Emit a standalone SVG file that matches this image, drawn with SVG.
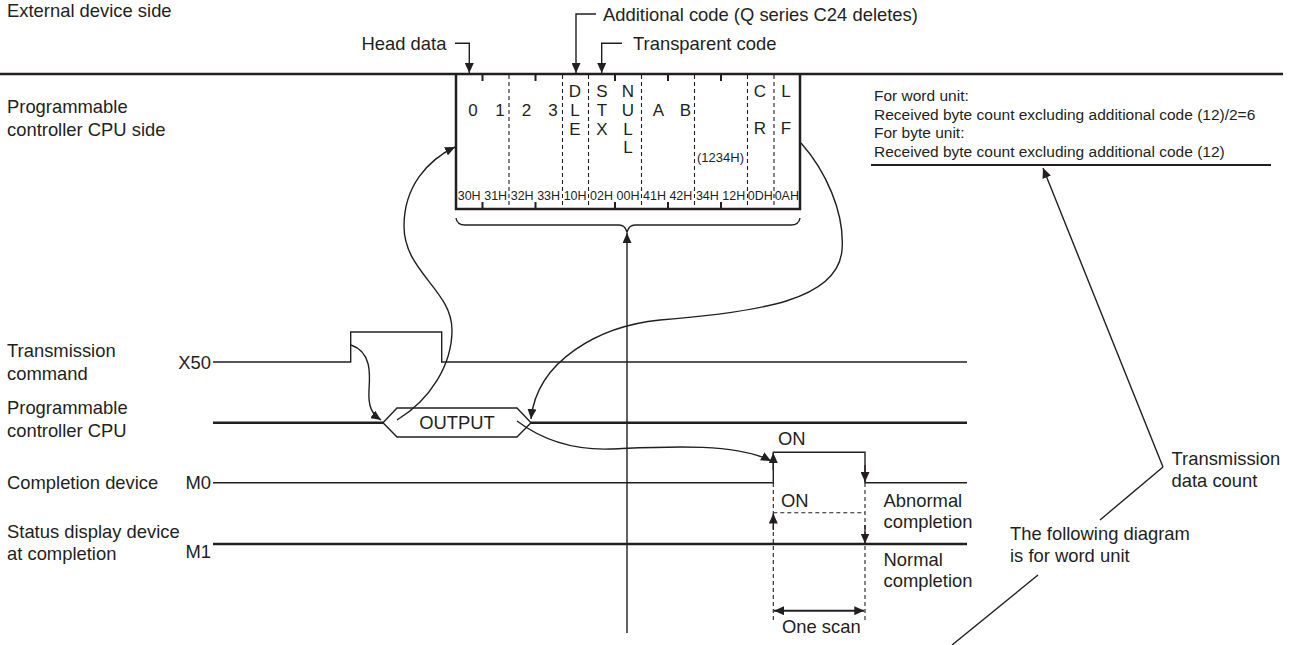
<svg xmlns="http://www.w3.org/2000/svg" width="1295" height="645" viewBox="0 0 1295 645">
<style>
text{font-family:"Liberation Sans",Arial,sans-serif;fill:#231f20}
.t{font-size:18.4px}
.s{font-size:15.5px}
.c{font-size:17px;text-anchor:middle}
.h{font-size:12.5px;text-anchor:middle}
.thick{stroke:#231f20;stroke-width:2.5;fill:none}
.thin{stroke:#231f20;stroke-width:1.4;fill:none}
.dash{stroke:#231f20;stroke-width:1.1;fill:none;stroke-dasharray:4 3}
.tick{stroke:#231f20;stroke-width:2;fill:none}
.arr{marker-end:url(#ah)}
</style>
<defs>
<marker id="ah" viewBox="0 0 10 9" refX="10" refY="4.5" markerWidth="10" markerHeight="9" markerUnits="userSpaceOnUse" orient="auto-start-reverse"><path d="M0,0 L10,4.5 L0,9 z" fill="#231f20"/></marker>
</defs>
<rect width="1295" height="645" fill="#fff"/>

<g id="side-labels">
<text class="t" x="7" y="17">External device side</text>
<text class="t" x="7" y="113">Programmable</text>
<text class="t" x="7" y="136">controller CPU side</text>
<line class="thick" x1="0" y1="74" x2="1283" y2="74"/>
</g>

<g id="data-frame">
<path class="thick" d="M456,74 V209 H800 V74"/>
<g class="tick">
<path d="M482.5,74v7M482.5,209v-7M535.5,74v7M535.5,209v-7M615,74v7M615,209v-7M668,74v7M668,209v-7M721,74v7M721,209v-7"/>
</g>
<g class="dash">
<path d="M509,75V208M562.5,75V208M588.5,75V208M641.5,75V208M694.5,75V208M747.5,75V208M774,75V208"/>
</g>
<text class="c" x="473" y="116">0</text>
<text class="c" x="500" y="116">1</text>
<text class="c" x="526.5" y="116">2</text>
<text class="c" x="553" y="116">3</text>
<text class="c" x="575" y="97">D</text>
<text class="c" x="575" y="116">L</text>
<text class="c" x="575" y="134.5">E</text>
<text class="c" x="602" y="97">S</text>
<text class="c" x="602" y="116">T</text>
<text class="c" x="602" y="134.5">X</text>
<text class="c" x="628" y="97">N</text>
<text class="c" x="628" y="116">U</text>
<text class="c" x="628" y="134.5">L</text>
<text class="c" x="628" y="153">L</text>
<text class="c" x="658.5" y="116">A</text>
<text class="c" x="685.5" y="116">B</text>
<text x="720.5" y="162" style="font-size:13px;text-anchor:middle">(1234H)</text>
<text class="c" x="760" y="97">C</text>
<text class="c" x="760" y="134">R</text>
<text class="c" x="786" y="97">L</text>
<text class="c" x="786" y="134">F</text>
<text class="h" x="469.2" y="199.5">30H</text>
<text class="h" x="495.7" y="199.5">31H</text>
<text class="h" x="522.2" y="199.5">32H</text>
<text class="h" x="548.6" y="199.5">33H</text>
<text class="h" x="575.1" y="199.5">10H</text>
<text class="h" x="601.5" y="199.5">02H</text>
<text class="h" x="628" y="199.5">00H</text>
<text class="h" x="654.5" y="199.5">41H</text>
<text class="h" x="680.9" y="199.5">42H</text>
<text class="h" x="707.4" y="199.5">34H</text>
<text class="h" x="733.8" y="199.5">12H</text>
<text class="h" x="760.3" y="199.5">0DH</text>
<text class="h" x="786.8" y="199.5">0AH</text>
<path class="thin" d="M456,218 Q457,225 465,225 H619 Q625,225 627,232 Q629,225 635,225 H791 Q799,225 800,218"/>
</g>

<g id="head-labels">
<text class="t" x="361.5" y="49.5">Head data</text>
<text class="t" x="633" y="50">Transparent code</text>
<text class="t" x="603" y="20.5">Additional code (Q series C24 deletes)</text>
</g>

<g id="count-note">
<text class="s" x="874" y="100.7">For word unit:</text>
<text class="s" x="874" y="119.5">Received byte count excluding additional code (12)/2=6</text>
<text class="s" x="874" y="138.3">For byte unit:</text>
<text class="s" x="874" y="157.2">Received byte count excluding additional code (12)</text>
<line x1="871" y1="165" x2="1271" y2="165" stroke="#231f20" stroke-width="2"/>
</g>

<g id="signal-x50">
<text class="t" x="7" y="357">Transmission</text>
<text class="t" x="7" y="379.5">command</text>
<text class="t" x="211" y="368.5" text-anchor="end">X50</text>
<polyline class="thin" points="213,362 350.7,362 350.7,332 441.7,332 441.7,362 967,362"/>
</g>

<g id="signal-cpu">
<text class="t" x="7" y="414">Programmable</text>
<text class="t" x="7" y="436.5">controller CPU</text>
<line class="thick" x1="213" y1="422.7" x2="383" y2="422.7"/>
<line class="thick" x1="531" y1="422.7" x2="967" y2="422.7"/>
<polygon class="thin" points="383,422.7 397,408 517,408 531,422.7 517,437 397,437"/>
<text class="t" x="457" y="429" text-anchor="middle">OUTPUT</text>
</g>

<g id="signal-m0">
<text class="t" x="7" y="488.5">Completion device</text>
<text class="t" x="211" y="488.5" text-anchor="end">M0</text>
<polyline class="thin" points="213,482.7 773.3,482.7 773.3,452.3 865,452.3 865,482.7 967,482.7"/>
<text class="t" x="778" y="445">ON</text>
</g>

<g id="signal-m1">
<text class="t" x="7" y="537.5">Status display device</text>
<text class="t" x="7" y="559.5">at completion</text>
<text class="t" x="211" y="558" text-anchor="end">M1</text>
<line class="thick" x1="213" y1="544" x2="967" y2="544"/>
<text class="t" x="781" y="506.5">ON</text>
<text class="t" x="883.5" y="506.5">Abnormal</text>
<text class="t" x="883.5" y="527.5">completion</text>
<text class="t" x="883.5" y="566">Normal</text>
<text class="t" x="883.5" y="587">completion</text>
<text class="t" x="782" y="632.5">One scan</text>
</g>

<g id="word-note">
<text class="t" x="1171.5" y="465">Transmission</text>
<text class="t" x="1171.5" y="487">data count</text>
<text class="t" x="1010" y="540">The following diagram</text>
<text class="t" x="1010" y="561.5">is for word unit</text>
</g>

<g id="connectors">
<path class="thin arr" d="M455,43.3 H469.3 V73"/>
<path class="thin arr" d="M596,14 H576 V73"/>
<path class="thin arr" d="M622,43.3 H601.7 V73"/>
<line class="thin arr" x1="627" y1="633" x2="627" y2="233"/>
<path class="thin arr" d="M397,420 C430,400 452,365 452,330 C452,290 404,272 404,226 C404,186 428,160 455,147"/>
<path class="thin arr" d="M801,143 C825,170 845,212 842,250 C838,300 760,312 660,320 C600,326 537,360 531,419"/>
<path class="thin arr" d="M351,345 C372,352 370,375 369,390 C368,407 372,414 381,420"/>
<path class="thin arr" d="M517,421 C545,442 575,450 610,449 C660,447 735,442 771,461"/>
<line class="thin arr" x1="773.3" y1="470" x2="773.3" y2="453"/>
<line class="thin arr" x1="865" y1="465" x2="865" y2="482"/>
<line class="dash" x1="773.3" y1="483" x2="773.3" y2="622"/>
<line class="dash" x1="865" y1="483" x2="865" y2="622"/>
<line class="dash" x1="773.3" y1="512.7" x2="865" y2="512.7"/>
<line class="thin arr" x1="773.3" y1="530" x2="773.3" y2="513.5"/>
<line class="thin arr" x1="865" y1="525" x2="865" y2="543.5"/>
<line x1="774" y1="610.7" x2="864.3" y2="610.7" stroke="#231f20" stroke-width="2" marker-start="url(#ah)" marker-end="url(#ah)"/>
<line class="thin arr" x1="1163" y1="467" x2="1043" y2="168"/>
<line class="thin" x1="1163" y1="467" x2="1100" y2="520"/>
<line class="thin" x1="1038" y1="575" x2="952" y2="645"/>
</g>
</svg>
